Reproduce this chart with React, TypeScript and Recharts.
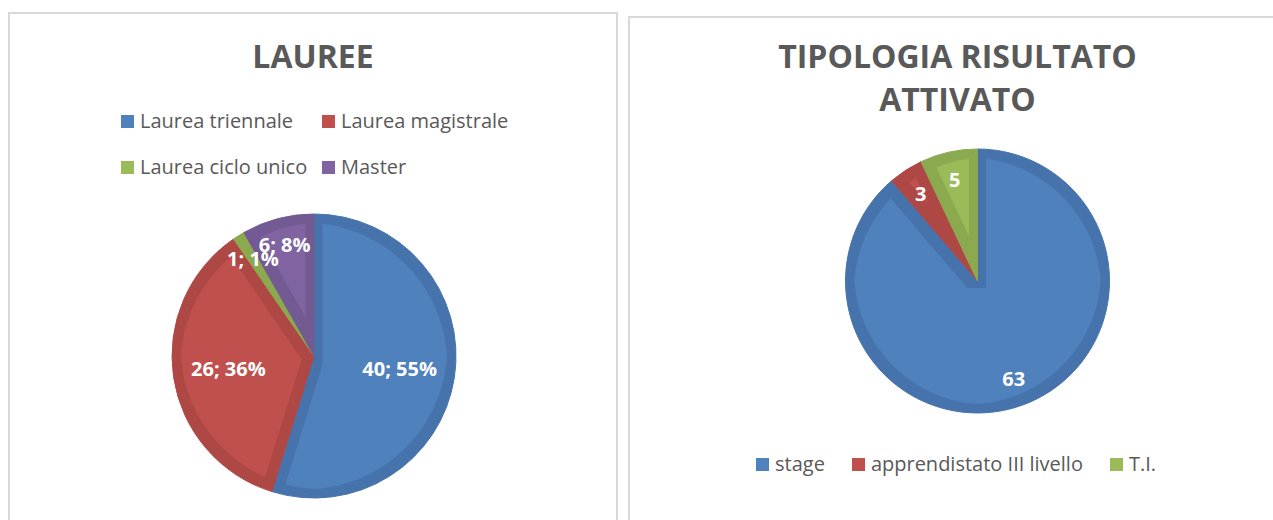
import * as React from "react"
import { PieChart, Pie, Cell } from "recharts"

// data
const laureeCategories = ["Laurea triennale", "Laurea magistrale", "Laurea ciclo unico", "Master"]
const laureeValues = [40, 26, 1, 6]

const tipologiaCategories = ["stage", "apprendistato III livello", "T.I."]
const tipologiaValues = [63, 3, 5]

// Office 2007 palette: [slice fill, darker inset band]
const palette = [
  { fill: "#4F81BD", band: "#4673AB" },
  { fill: "#C0504D", band: "#AE4845" },
  { fill: "#9BBB59", band: "#8BA94F" },
  { fill: "#8064A2", band: "#735A93" },
]

const FONT = "'Open Sans', 'Liberation Sans', sans-serif"
const TEXT = "#595959"
const RADIAN = Math.PI / 180

const laureeData = laureeCategories.map((name, i) => ({ name, value: laureeValues[i] }))
const tipologiaData = tipologiaCategories.map((name, i) => ({ name, value: tipologiaValues[i] }))

function BevelFilters() {
  return (
    <svg width={0} height={0} style={{ position: "absolute" }}>
      <defs>
        {palette.map((c, i) => (
          <filter key={i} id={`bevel-${i}`} x="-10%" y="-10%" width="120%" height="120%" colorInterpolationFilters="sRGB">
            <feMorphology in="SourceAlpha" operator="erode" radius="9" result="inner" />
            <feFlood floodColor={c.fill} result="light" />
            <feComposite in="light" in2="inner" operator="in" result="lightInner" />
            <feMerge>
              <feMergeNode in="SourceGraphic" />
              <feMergeNode in="lightInner" />
            </feMerge>
          </filter>
        ))}
      </defs>
    </svg>
  )
}

function makeLabel(radiusFactor: (percent: number) => number, format: (value: number, percent: number) => string, fontSize: number) {
  return (props: any) => {
    const { cx, cy, midAngle, outerRadius, percent, value } = props
    const r = outerRadius * radiusFactor(percent)
    const x = cx + r * Math.cos(-midAngle * RADIAN)
    const y = cy + r * Math.sin(-midAngle * RADIAN)
    return (
      <text
        x={x}
        y={y}
        fill="#fff"
        textAnchor="middle"
        dominantBaseline="central"
        fontFamily={FONT}
        fontWeight={700}
        fontSize={fontSize}
      >
        {format(value, percent)}
      </text>
    )
  }
}

function LegendSwatch({ color }: { color: string }) {
  return <span style={{ display: "inline-block", width: 13, height: 13, background: color, marginRight: 6 }} />
}

export default function App() {
  const panel: React.CSSProperties = {
    position: "absolute",
    border: "2px solid #d9d9d9",
    boxSizing: "border-box",
    background: "#fff",
  }
  const title: React.CSSProperties = {
    position: "absolute",
    fontFamily: FONT,
    fontWeight: 700,
    fontSize: 32,
    lineHeight: "43px",
    color: TEXT,
    textAlign: "center",
    whiteSpace: "nowrap",
  }
  const legendText: React.CSSProperties = {
    fontFamily: FONT,
    fontSize: 20,
    lineHeight: "20px",
    color: TEXT,
    whiteSpace: "nowrap",
    display: "flex",
    alignItems: "center",
  }

  return (
    <div style={{ position: "absolute", left: 0, top: 0, width: 1273, height: 520, overflow: "hidden", background: "#fff" }}>
      <BevelFilters />

      {/* left panel: LAUREE */}
      <div style={{ ...panel, left: 8, top: 12, width: 610, height: 540 }} />
      <div style={{ ...title, left: 8, width: 610, top: 34 }}>LAUREE</div>
      {laureeCategories.map((name, i) => (
        <div
          key={name}
          style={{
            ...legendText,
            position: "absolute",
            left: i % 2 === 0 ? 121 : 322,
            top: i < 2 ? 111 : 157,
          }}
        >
          <LegendSwatch color={palette[i].fill} />
          {name}
        </div>
      ))}
      <div style={{ position: "absolute", left: 8, top: 200 }}>
        <PieChart width={610} height={320} margin={{ top: 0, right: 0, bottom: 0, left: 0 }}>
          <Pie
            data={laureeData}
            dataKey="value"
            nameKey="name"
            cx={306}
            cy={156}
            outerRadius={142}
            startAngle={90}
            endAngle={-270}
            isAnimationActive={false}
            labelLine={false}
            label={makeLabel(
              (p) => (p < 0.1 ? 0.81 : 0.61),
              (v, p) => `${v}; ${Math.round(p * 100)}%`,
              20
            )}
          >
            {laureeData.map((d, i) => (
              <Cell key={d.name} fill={palette[i].band} stroke={palette[i].band} strokeWidth={1} filter={`url(#bevel-${i})`} />
            ))}
          </Pie>
        </PieChart>
      </div>

      {/* right panel: TIPOLOGIA RISULTATO ATTIVATO */}
      <div style={{ ...panel, left: 628, top: 16, width: 660, height: 540 }} />
      <div style={{ ...title, left: 628, width: 659, top: 34 }}>
        TIPOLOGIA RISULTATO
        <br />
        ATTIVATO
      </div>
      <div style={{ position: "absolute", left: 628, top: 130 }}>
        <PieChart width={645} height={300} margin={{ top: 0, right: 0, bottom: 0, left: 0 }}>
          <Pie
            data={tipologiaData}
            dataKey="value"
            nameKey="name"
            cx={349.5}
            cy={151}
            outerRadius={132}
            startAngle={90}
            endAngle={-270}
            isAnimationActive={false}
            labelLine={false}
            label={makeLabel(() => 0.79, (v) => `${v}`, 20)}
          >
            {tipologiaData.map((d, i) => (
              <Cell key={d.name} fill={palette[i].band} stroke={palette[i].band} strokeWidth={1} filter={`url(#bevel-${i})`} />
            ))}
          </Pie>
        </PieChart>
      </div>
      <div style={{ position: "absolute", left: 756, top: 454, display: "flex", gap: 27 }}>
        {tipologiaCategories.map((name, i) => (
          <div key={name} style={legendText}>
            <LegendSwatch color={palette[i].fill} />
            {name}
          </div>
        ))}
      </div>
    </div>
  )
}
